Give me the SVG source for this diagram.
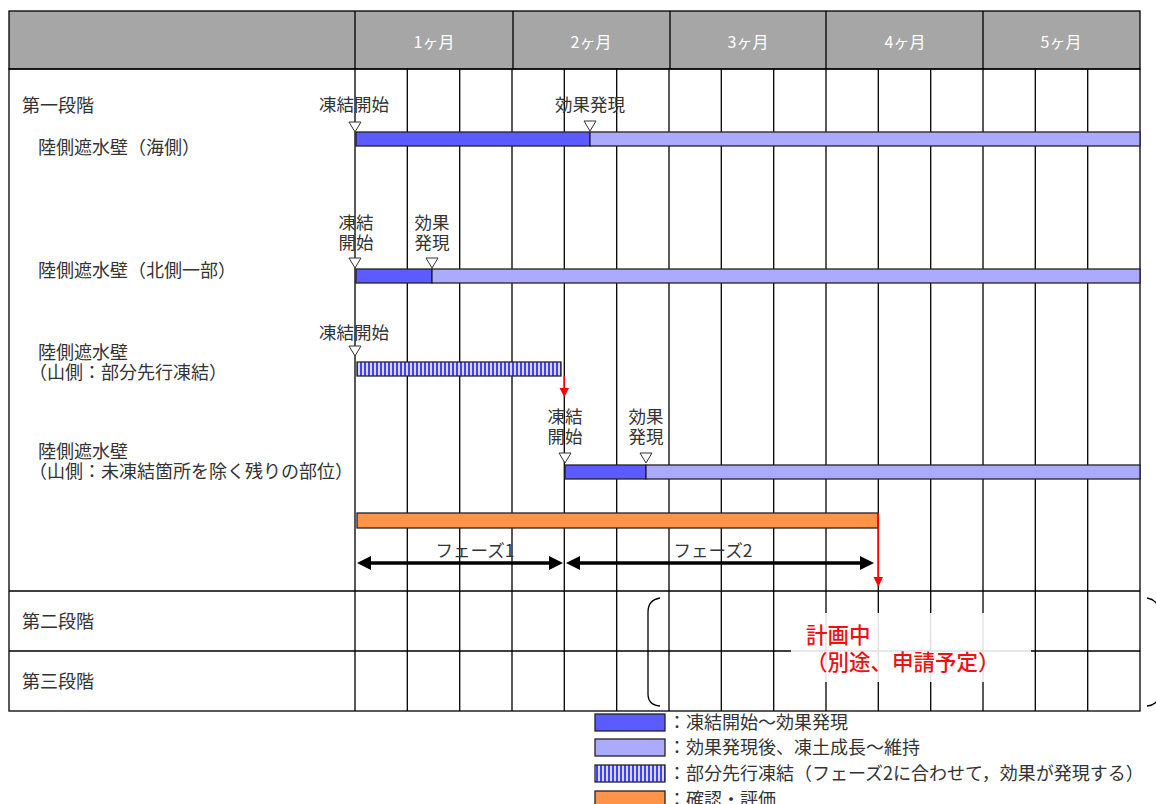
<svg xmlns="http://www.w3.org/2000/svg" width="1156" height="804" viewBox="0 0 1156 804">
<style>
text{font-family:"Noto Sans CJK JP","Noto Sans",sans-serif;fill:#333;font-size:18px}
.hd{fill:#fff;font-size:16px;text-anchor:middle}
.mk{text-anchor:middle;font-size:17.5px}
.g{stroke:#000;stroke-width:1.3;fill:none}
.dk{fill:#5b5bff;stroke:#222;stroke-width:1.3}
.lt{fill:#aaaaff;stroke:#222;stroke-width:1.3}
.tri{fill:#fff;stroke:#333;stroke-width:1}
.red{stroke:#ff0000;stroke-width:1.6}
.ph{stroke:#000;stroke-width:3.5}
.rt{fill:#ee1111;font-size:21.5px;font-weight:500}
</style>
<defs>
<pattern id="hatch" width="4" height="10" patternUnits="userSpaceOnUse">
<rect width="4" height="10" fill="#d6d6ff"/>
<rect width="2" height="10" fill="#4040ff"/>
</pattern>
</defs>
<rect width="1156" height="804" fill="#fff"/>
<g id="header">
<rect x="9" y="11" width="1131" height="58" fill="#a6a6a6" stroke="#000" stroke-width="1.3"/>
<path class="g" d="M355 11V69M513 11V69M670 11V69M826 11V69M983 11V69"/>
<text class="hd" x="434" y="48">1ヶ月</text>
<text class="hd" x="591" y="48">2ヶ月</text>
<text class="hd" x="748" y="48">3ヶ月</text>
<text class="hd" x="905" y="48">4ヶ月</text>
<text class="hd" x="1061" y="48">5ヶ月</text>
</g>
<g id="grid">
<rect x="9" y="69" width="1131" height="642" class="g"/>
<path class="g" d="M9 591H1140M9 651H1140"/>
<path class="g" d="M355 69V711M407.3 69V711M459.7 69V711M512 69V711M564.3 69V711M616.7 69V711M669 69V711M721.3 69V711M773.7 69V711M826 69V711M878.3 69V711M930.7 69V711M983 69V711M1035.3 69V711M1087.7 69V711"/>
</g>
<g id="labels">
<text x="22" y="112">第一段階</text>
<text x="38" y="154">陸側遮水壁（海側）</text>
<text x="38" y="277">陸側遮水壁（北側一部）</text>
<text x="38" y="359">陸側遮水壁</text>
<text x="29" y="379">（山側：部分先行凍結）</text>
<text x="38" y="458">陸側遮水壁</text>
<text x="29" y="478">（山側：未凍結箇所を除く残りの部位）</text>
<text x="22" y="628">第二段階</text>
<text x="22" y="688">第三段階</text>
</g>
<g id="row-seaside">
<rect class="dk" x="356" y="132" width="234" height="14"/>
<rect class="lt" x="590" y="132" width="550" height="14"/>
<polygon class="tri" points="349,122 361,122 355,132"/>
<text class="mk" x="354" y="111">凍結開始</text>
<polygon class="tri" points="584,121 596,121 590,131"/>
<text class="mk" x="590" y="111">効果発現</text>
</g>
<g id="row-north">
<rect class="dk" x="356" y="269" width="76" height="14"/>
<rect class="lt" x="432" y="269" width="708" height="14"/>
<polygon class="tri" points="349,258 361,258 355,268"/>
<text class="mk" x="356" y="229">凍結</text>
<text class="mk" x="356" y="249">開始</text>
<polygon class="tri" points="426,258 438,258 432,268"/>
<text class="mk" x="432" y="229">効果</text>
<text class="mk" x="432" y="249">発現</text>
</g>
<g id="row-mountain-partial">
<rect x="357" y="362" width="204" height="14" fill="url(#hatch)" stroke="#222" stroke-width="1.3"/>
<polygon class="tri" points="349,346 361,346 355,356"/>
<text class="mk" x="354" y="339">凍結開始</text>
</g>
<g id="row-mountain-rest">
<rect class="dk" x="565" y="465" width="81" height="14"/>
<rect class="lt" x="646" y="465" width="494" height="14"/>
<polygon class="tri" points="559,453 571,453 565,463"/>
<text class="mk" x="565" y="423">凍結</text>
<text class="mk" x="565" y="443">開始</text>
<polygon class="tri" points="640,453 652,453 646,463"/>
<text class="mk" x="646" y="423">効果</text>
<text class="mk" x="646" y="443">発現</text>
</g>
<g id="row-review">
<rect x="357" y="513" width="521" height="15" fill="#ff9347" stroke="#222" stroke-width="1.3"/>
</g>
<g id="planned">
<rect x="791" y="613" width="240" height="69" fill="#fff" fill-opacity="0.88"/>
<path d="M660 598Q648 600 648 612V694Q648 705 660 706" fill="none" stroke="#000" stroke-width="1.3"/>
<path d="M1147 598Q1158 600 1160 612V694Q1158 705 1147 706" fill="none" stroke="#000" stroke-width="1.3"/>
<text class="rt" x="806" y="643">計画中</text>
<text class="rt" x="806" y="670">（別途、申請予定）</text>
</g>
<g id="connectors">
<line class="red" x1="564.3" y1="376" x2="564.3" y2="389"/>
<polygon points="559.5,388 569,388 564.3,397" fill="#ff0000"/>
<line class="red" x1="878.3" y1="513" x2="878.3" y2="578"/>
<polygon points="873.5,577 883,577 878.3,587" fill="#ff0000"/>
<line class="ph" x1="368" y1="563" x2="551" y2="563"/>
<polygon points="357,563 371,556 371,570"/>
<polygon points="563,563 549,556 549,570"/>
<line class="ph" x1="577" y1="563" x2="862" y2="563"/>
<polygon points="566,563 580,556 580,570"/>
<polygon points="874,563 860,556 860,570"/>
<text class="mk" x="475" y="557">フェーズ1</text>
<text class="mk" x="713" y="557">フェーズ2</text>
</g>
<g id="legend">
<rect class="dk" x="595" y="714" width="70" height="17"/>
<text x="668" y="729">：凍結開始～効果発現</text>
<rect class="lt" x="595" y="739" width="70" height="17"/>
<text x="668" y="754">：効果発現後、凍土成長～維持</text>
<rect x="595" y="765" width="70" height="17" fill="url(#hatch)" stroke="#222" stroke-width="1.3"/>
<text x="668" y="780">：部分先行凍結（フェーズ2に合わせて，効果が発現する）</text>
<rect x="595" y="791" width="70" height="17" fill="#ff9347" stroke="#222" stroke-width="1.3"/>
<text x="668" y="806">：確認・評価</text>
</g>
</svg>
